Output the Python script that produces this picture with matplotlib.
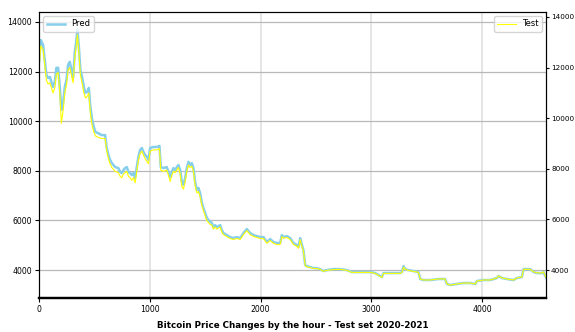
import numpy as np
import matplotlib.pyplot as plt

plt.rcParams['font.family'] = ['DejaVu Sans']

# hour index into the test set
hours = [0, 15, 36, 51, 66, 81, 97, 111, 126, 142,
         156, 172, 187, 201, 217, 232, 247, 262, 277, 292,
         307, 322, 337, 346, 359, 373, 388, 404, 418, 434,
         449, 463, 479, 494, 509, 533, 563, 596, 611, 626,
         641, 657, 687, 716, 732, 747, 762, 777, 792, 807,
         822, 837, 852, 867, 882, 897, 912, 928, 942, 958,
         973, 987, 1003, 1033, 1063, 1087, 1099, 1123, 1153, 1168,
         1183, 1199, 1213, 1229, 1244, 1258, 1274, 1289, 1304, 1319,
         1334, 1349, 1364, 1379, 1394, 1409, 1425, 1439, 1454, 1470,
         1484, 1500, 1515, 1529, 1545, 1560, 1574, 1590, 1605, 1620,
         1635, 1650, 1665, 1695, 1725, 1755, 1786, 1816, 1845, 1876,
         1906, 1936, 1966, 1996, 2026, 2057, 2087, 2116, 2147, 2177,
         2192, 2207, 2237, 2267, 2297, 2328, 2342, 2358, 2373, 2387,
         2403, 2418, 2448, 2478, 2508, 2538, 2568, 2599, 2658, 2719,
         2779, 2825, 2870, 2930, 2990, 3035, 3065, 3096, 3110, 3141,
         3200, 3261, 3276, 3291, 3306, 3336, 3381, 3426, 3442, 3471,
         3532, 3607, 3667, 3683, 3713, 3773, 3833, 3893, 3939, 3954,
         4014, 4074, 4134, 4149, 4180, 4225, 4284, 4315, 4360, 4375,
         4435, 4465, 4496, 4541, 4555, 4580]

# model prediction
pred = [12400, 13270, 13070, 12470, 11860, 11740, 11780, 11580, 11380, 11580,
        12150, 12150, 11380, 10450, 10730, 11380, 11660, 12270, 12390, 12060,
        11740, 12750, 13270, 13700, 12990, 12060, 11780, 11380, 11140, 11180,
        11340, 10570, 10050, 9770, 9560, 9520, 9440, 9440, 8920, 8640,
        8440, 8310, 8150, 8110, 7950, 7910, 8030, 8110, 8150, 7950,
        7910, 7830, 7910, 7710, 8150, 8560, 8840, 8920, 8760, 8640,
        8560, 8440, 8920, 8960, 8960, 9000, 8150, 8110, 8150, 7950,
        7750, 7950, 8110, 8030, 8150, 8230, 8030, 7550, 7430, 7710,
        8110, 8360, 8230, 8310, 8110, 7550, 7230, 7310, 7100, 6700,
        6500, 6300, 6100, 6020, 5940, 5900, 5730, 5810, 5730, 5770,
        5810, 5610, 5490, 5410, 5330, 5290, 5330, 5290, 5490, 5650,
        5490, 5410, 5370, 5330, 5330, 5130, 5250, 5130, 5090, 5090,
        5410, 5330, 5370, 5290, 5090, 5010, 4930, 5290, 5010, 4810,
        4200, 4160, 4120, 4080, 4080, 4040, 3960, 4000, 4040, 4040,
        4000, 3920, 3920, 3920, 3920, 3880, 3800, 3720, 3880, 3880,
        3880, 3880, 3920, 4160, 4040, 4000, 3960, 3920, 3640, 3600,
        3600, 3640, 3640, 3440, 3400, 3440, 3480, 3480, 3440, 3560,
        3600, 3600, 3680, 3760, 3680, 3640, 3600, 3680, 3720, 4040,
        4040, 3920, 3880, 3880, 3920, 3680]

# actual price
test = [12000, 12850, 12700, 12100, 11500, 11350, 11400, 11200, 11000, 11200,
        11750, 11800, 11000, 9800, 10300, 11000, 11300, 11900, 12000, 11700,
        11400, 12350, 12900, 13300, 12600, 11700, 11400, 11000, 10800, 10850,
        11000, 10200, 9700, 9450, 9300, 9250, 9200, 9200, 8700, 8400,
        8200, 8050, 7900, 7850, 7700, 7650, 7800, 7850, 7900, 7700,
        7650, 7550, 7650, 7450, 7900, 8350, 8600, 8700, 8550, 8400,
        8300, 8200, 8700, 8750, 8750, 8800, 7950, 7900, 7950, 7750,
        7500, 7750, 7900, 7850, 7950, 8050, 7800, 7300, 7200, 7500,
        7900, 8150, 8050, 8100, 7900, 7350, 7050, 7100, 6900, 6550,
        6350, 6150, 5950, 5880, 5800, 5780, 5620, 5700, 5620, 5660,
        5700, 5500, 5400, 5320, 5250, 5210, 5250, 5210, 5400, 5560,
        5400, 5330, 5290, 5250, 5250, 5060, 5170, 5060, 5010, 5010,
        5320, 5260, 5290, 5210, 5010, 4940, 4860, 5200, 4930, 4750,
        4180, 4130, 4100, 4060, 4060, 4030, 3950, 3990, 4020, 4030,
        3990, 3910, 3910, 3910, 3910, 3870, 3790, 3710, 3870, 3870,
        3870, 3870, 3900, 4120, 4030, 3990, 3950, 3910, 3650, 3610,
        3610, 3650, 3650, 3450, 3410, 3450, 3490, 3490, 3450, 3570,
        3610, 3610, 3690, 3770, 3690, 3650, 3610, 3690, 3730, 4030,
        4030, 3930, 3890, 3890, 3930, 3700]

fig, ax1 = plt.subplots(figsize=(5.75, 3.32), dpi=100)
fig.subplots_adjust(left=0.068, right=0.95, top=0.964, bottom=0.102)

ax1.plot(hours, pred, color='skyblue', lw=1.8, label='Pred')
ax1.set_xlim(0, 4580)
ax1.set_ylim(2870, 14400)
ax1.grid(axis='y', color='#b8b8b8', lw=0.9)
ax1.grid(axis='x', color='#e0e0e0', lw=1.2)
ax1.legend(loc='upper left', fontsize=6, handlelength=2.2)
ax1.set_xlabel('Bitcoin Price Changes by the hour - Test set 2020-2021',
               fontsize=6.3, fontweight='bold', labelpad=5)
ax1.tick_params(labelsize=5.6, length=3, pad=2)

ax2 = ax1.twinx()
ax2.plot(hours, test, color='yellow', lw=0.8, label='Test')
ax2.set_ylim(2893, 14198)
ax2.legend(loc='upper right', fontsize=6, handlelength=2.2)
ax2.tick_params(labelsize=5.2, length=2.5, pad=1)

for ax in (ax1, ax2):
    ax.spines['bottom'].set_linewidth(1.6)

plt.savefig('out.png', dpi=100)
